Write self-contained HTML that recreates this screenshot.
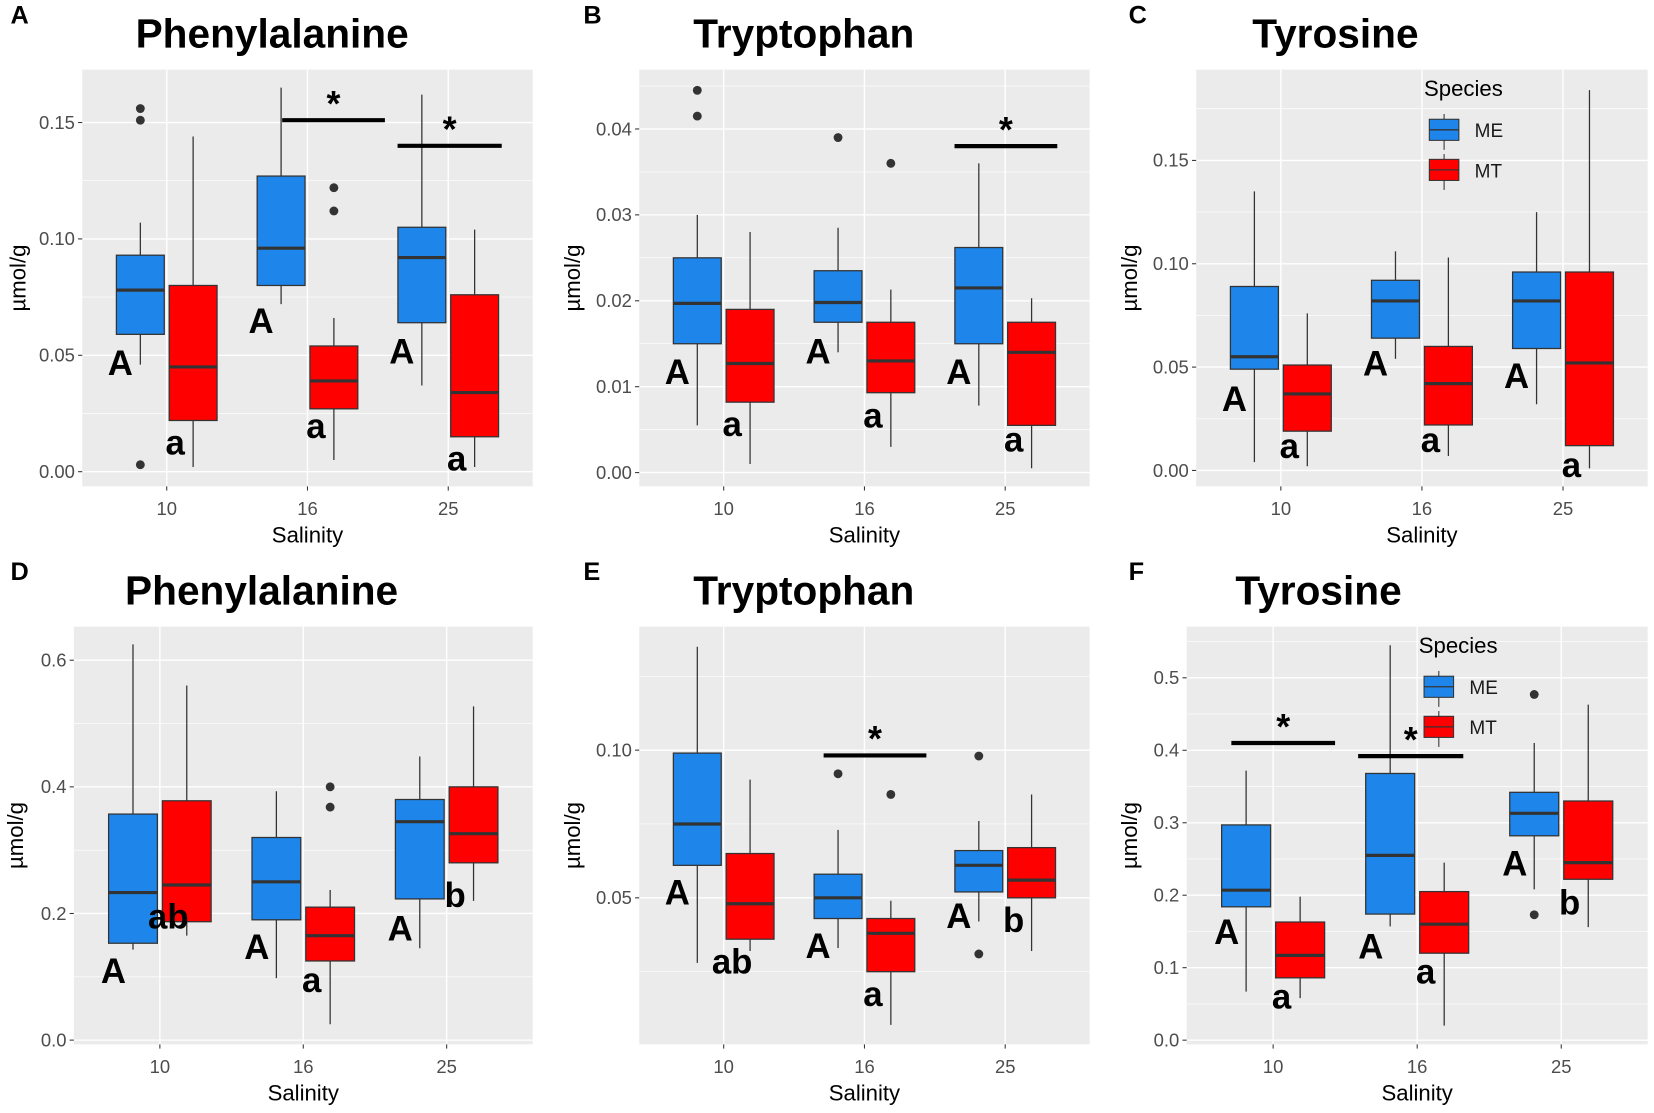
<!DOCTYPE html>
<html><head><meta charset="utf-8">
<style>
html,body{margin:0;padding:0;background:#fff;}
svg{display:block;font-family:"Liberation Sans",Arial,sans-serif;}
</style></head>
<body>
<svg id="fig" width="1654" height="1113" viewBox="0 0 1568 1055" xmlns="http://www.w3.org/2000/svg"></svg>
<script>
// ---- data (five-number summaries: [min, q1, median, q3, max]) ----
const categories = ["10", "16", "25"];
const series = ["ME", "MT"];

const phe1ME = [[0.046,0.059,0.078,0.093,0.107],[0.072,0.080,0.096,0.127,0.165],[0.037,0.064,0.092,0.105,0.162]];
const phe1MT = [[0.002,0.022,0.045,0.080,0.144],[0.005,0.027,0.039,0.054,0.066],[0.002,0.015,0.034,0.076,0.104]];
const phe1OutME = [[0.156,0.151,0.003],[],[]];
const phe1OutMT = [[],[0.122,0.112],[]];

const trp1ME = [[0.0055,0.015,0.0197,0.025,0.030],[0.014,0.0175,0.0198,0.0235,0.0285],[0.0078,0.015,0.0215,0.0262,0.036]];
const trp1MT = [[0.001,0.0082,0.0127,0.019,0.028],[0.003,0.0093,0.013,0.0175,0.0213],[0.0005,0.0055,0.014,0.0175,0.0203]];
const trp1OutME = [[0.0445,0.0415],[0.039],[]];
const trp1OutMT = [[],[0.036],[]];

const tyr1ME = [[0.004,0.049,0.055,0.089,0.135],[0.054,0.064,0.082,0.092,0.106],[0.032,0.059,0.082,0.096,0.125]];
const tyr1MT = [[0.002,0.019,0.037,0.051,0.076],[0.007,0.022,0.042,0.060,0.103],[0.001,0.012,0.052,0.096,0.184]];
const tyr1OutME = [[],[],[]];
const tyr1OutMT = [[],[],[]];

const phe2ME = [[0.143,0.153,0.233,0.357,0.625],[0.098,0.190,0.250,0.320,0.393],[0.145,0.223,0.345,0.380,0.448]];
const phe2MT = [[0.165,0.187,0.245,0.378,0.560],[0.025,0.125,0.165,0.210,0.237],[0.220,0.280,0.326,0.400,0.527]];
const phe2OutME = [[],[],[]];
const phe2OutMT = [[],[0.400,0.368],[]];

const trp2ME = [[0.028,0.061,0.075,0.099,0.135],[0.033,0.043,0.050,0.058,0.073],[0.042,0.052,0.061,0.066,0.076]];
const trp2MT = [[0.032,0.036,0.048,0.065,0.090],[0.007,0.025,0.038,0.043,0.049],[0.032,0.050,0.056,0.067,0.085]];
const trp2OutME = [[],[0.092],[0.098,0.031]];
const trp2OutMT = [[],[0.085],[]];

const tyr2ME = [[0.067,0.184,0.207,0.297,0.372],[0.157,0.174,0.255,0.368,0.545],[0.208,0.282,0.313,0.342,0.410]];
const tyr2MT = [[0.058,0.086,0.117,0.163,0.198],[0.020,0.120,0.160,0.205,0.245],[0.156,0.222,0.245,0.330,0.463]];
const tyr2OutME = [[],[],[0.477,0.173]];
const tyr2OutMT = [[],[],[]];

const phe1Letters = [["A","a"],["A","a"],["A","a"]];
const phe1LetterY = [[0.047,0.012],[0.065,0.019],[0.052,0.005]];
const trp1Letters = [["A","a"],["A","a"],["A","a"]];
const trp1LetterY = [[0.0118,0.0055],[0.0142,0.0065],[0.0118,0.0037]];
const tyr1Letters = [["A","a"],["A","a"],["A","a"]];
const tyr1LetterY = [[0.035,0.011],[0.052,0.014],[0.046,0.002]];
const phe2Letters = [["A","ab"],["A","a"],["A","b"]];
const phe2LetterY = [[0.11,0.193],[0.148,0.093],[0.177,0.227]];
const trp2Letters = [["A","ab"],["A","a"],["A","b"]];
const trp2LetterY = [[0.052,0.028],[0.034,0.017],[0.044,0.042]];
const tyr2Letters = [["A","a"],["A","a"],["A","b"]];
const tyr2LetterY = [[0.15,0.058],[0.13,0.093],[0.245,0.188]];

// significance bars: [start (category units), end, y]
const phe1Sig = [[1.82,2.55,0.151],[2.64,3.38,0.140]];
const trp1Sig = [[2.64,3.37,0.038]];
const tyr1Sig = [];
const phe2Sig = [];
const trp2Sig = [[1.71,2.44,0.0982]];
const tyr2Sig = [[0.71,1.43,0.41],[1.59,2.32,0.392]];

const phe1Ticks = [0,0.05,0.10,0.15], phe1TickLab = ["0.00","0.05","0.10","0.15"];
const trp1Ticks = [0,0.01,0.02,0.03,0.04], trp1TickLab = ["0.00","0.01","0.02","0.03","0.04"];
const tyr1Ticks = [0,0.05,0.10,0.15], tyr1TickLab = ["0.00","0.05","0.10","0.15"];
const phe2Ticks = [0,0.2,0.4,0.6], phe2TickLab = ["0.0","0.2","0.4","0.6"];
const trp2Ticks = [0.05,0.10], trp2TickLab = ["0.05","0.10"];
const tyr2Ticks = [0,0.1,0.2,0.3,0.4,0.5], tyr2TickLab = ["0.0","0.1","0.2","0.3","0.4","0.5"];

const NS = "http://www.w3.org/2000/svg";
const svg = document.getElementById("fig");
function mk(tag, attrs, parent, text){
  const e = document.createElementNS(NS, tag);
  for (const k in attrs) e.setAttribute(k, attrs[k]);
  if (text !== undefined) e.textContent = text;
  (parent||svg).appendChild(e);
  return e;
}

function panel(cfg){
  const g = mk("g", {});
  
  
  const {x0,x1,y0,y1,dMin,dMax} = cfg;
  const X = v => x0 + (v - 0.4) / 3.2 * (x1 - x0);
  const Y = v => y1 - (v - dMin) / (dMax - dMin) * (y1 - y0);
  const bg = mk("rect",{x:x0,y:y0,width:x1-x0,height:y1-y0,fill:"#EBEBEB"},g);
  
  
  const t = cfg.ticks; const step = t.length>1 ? t[1]-t[0] : 0.05;
  for (let v = t[0]-step/2; v < dMax; v += step){
    if (v > dMin) mk("line",{x1:x0,x2:x1,y1:Y(v),y2:Y(v),stroke:"#fff","stroke-width":0.6},g);
  }
  t.forEach((v,i)=>{
    mk("line",{x1:x0,x2:x1,y1:Y(v),y2:Y(v),stroke:"#fff","stroke-width":1.3},g);
    mk("line",{x1:x0-4,x2:x0,y1:Y(v),y2:Y(v),stroke:"#333","stroke-width":1},g);
    const lab = mk("text",{x:x0-7,y:Y(v)+6,"text-anchor":"end","font-size":17.5,fill:"#4D4D4D"},g,cfg.tickLab[i]);
    
    
  });
  categories.forEach((c,i)=>{
    const xv = X(i+1);
    mk("line",{x1:xv,x2:xv,y1:y0,y2:y1,stroke:"#fff","stroke-width":1.3},g);
    mk("line",{x1:xv,x2:xv,y1:y1,y2:y1+4,stroke:"#333","stroke-width":1},g);
    const lab = mk("text",{x:xv,y:y1+27,"text-anchor":"middle","font-size":17.5,fill:"#4D4D4D"},g,c);
    
    
  });
  const colors = ["#1E86EA","#FF0000"];
  [cfg.me, cfg.mt].forEach((arr, s)=>{
    const outs = s===0 ? cfg.outMe : cfg.outMt;
    arr.forEach((b,i)=>{
      const cx = X(i+1 + (s===0?-0.1875:0.1875));
      const hw = (X(1.17)-X(1));
      const bx = mk("g",{},g);
      
      
      mk("line",{x1:cx,x2:cx,y1:Y(b[4]),y2:Y(b[0]),stroke:"#333","stroke-width":1.2},bx);
      mk("rect",{x:cx-hw,y:Y(b[3]),width:2*hw,height:Y(b[1])-Y(b[3]),fill:colors[s],stroke:"#333","stroke-width":1.2},bx);
      mk("line",{x1:cx-hw,x2:cx+hw,y1:Y(b[2]),y2:Y(b[2]),stroke:"#333","stroke-width":3},bx);
      outs[i].forEach(o=>{
        const p = mk("circle",{cx:cx,cy:Y(o),r:4.2,fill:"#333"},g);
        
        
      });
    });
  });
  cfg.letters.forEach((pair,i)=>{
    const up = mk("text",{x:X(i+1)-44,y:Y(cfg.letterY[i][0])+12,"text-anchor":"middle","font-size":33,"font-weight":"bold",fill:"#000"},g,pair[0]);
    
    
    const lo = mk("text",{x:X(i+1)+8,y:Y(cfg.letterY[i][1])+10,"text-anchor":"middle","font-size":33,"font-weight":"bold",fill:"#000"},g,pair[1]);
    
    
  });
  cfg.sig.forEach(sg=>{
    const l = mk("line",{x1:X(sg[0]),x2:X(sg[1]),y1:Y(sg[2]),y2:Y(sg[2]),stroke:"#000","stroke-width":4},g);
    
    
    const st = mk("text",{x:(X(sg[0])+X(sg[1]))/2,y:Y(sg[2])-4,"text-anchor":"middle","font-size":34,"font-weight":"bold",fill:"#000"},g,"*");
    
    
  });
  const ttl = mk("text",{x:cfg.tx,y:y0-21,"text-anchor":"middle","font-size":38.5,"font-weight":"bold",fill:"#000"},g,cfg.title);
  
  
  const pl = mk("text",{x:cfg.lx,y:y0-44,"font-size":24,"font-weight":"bold",fill:"#000"},g,cfg.letter);
  
  
  const xt = mk("text",{x:(x0+x1)/2,y:y1+53,"text-anchor":"middle","font-size":21,fill:"#000"},g,"Salinity");
  
  
  const yc = (y0+y1)/2;
  const yt = mk("text",{x:cfg.ytx,y:yc,"text-anchor":"middle","font-size":21,fill:"#000",transform:`rotate(-90 ${cfg.ytx} ${yc})`},g,"µmol/g");
  
  
  if (cfg.legend){
    const L = cfg.legend;
    const lg = mk("g",{},g);
    
    
    mk("text",{x:L[0],y:L[1],"font-size":21,fill:"#000"},lg,"Species");
    series.forEach((s,k)=>{
      const ky = L[1]+22+k*38;
      const kx = L[0]+5;
      const e = mk("g",{},lg);
      
      
      mk("line",{x1:kx+14,x2:kx+14,y1:ky-5,y2:ky+29,stroke:"#333","stroke-width":1},e);
      mk("rect",{x:kx,y:ky,width:28,height:20,fill:colors[k],stroke:"#333","stroke-width":1},e);
      mk("line",{x1:kx,x2:kx+28,y1:ky+10,y2:ky+10,stroke:"#333","stroke-width":1.2},e);
      mk("text",{x:kx+43,y:ky+17,"font-size":18,fill:"#1a1a1a"},e,s);
    });
  }
}

panel({name:"panel-a-phenylalanine",letter:"A",title:"Phenylalanine",x0:78,x1:505,y0:66,y1:461,dMin:-0.0063,dMax:0.1727,
  ticks:phe1Ticks,tickLab:phe1TickLab,me:phe1ME,mt:phe1MT,outMe:phe1OutME,outMt:phe1OutMT,letters:phe1Letters,letterY:phe1LetterY,sig:phe1Sig,tx:258,lx:10,ytx:24});
panel({name:"panel-b-tryptophan",letter:"B",title:"Tryptophan",x0:606,x1:1033,y0:66,y1:461,dMin:-0.0016,dMax:0.0469,
  ticks:trp1Ticks,tickLab:trp1TickLab,me:trp1ME,mt:trp1MT,outMe:trp1OutME,outMt:trp1OutMT,letters:trp1Letters,letterY:trp1LetterY,sig:trp1Sig,tx:762,lx:553,ytx:550});
panel({name:"panel-c-tyrosine",letter:"C",title:"Tyrosine",x0:1134,x1:1562,y0:66,y1:461,dMin:-0.0077,dMax:0.1939,
  ticks:tyr1Ticks,tickLab:tyr1TickLab,me:tyr1ME,mt:tyr1MT,outMe:tyr1OutME,outMt:tyr1OutMT,letters:tyr1Letters,letterY:tyr1LetterY,sig:tyr1Sig,tx:1266,lx:1070,ytx:1078,legend:[1350,91]});
panel({name:"panel-d-phenylalanine",letter:"D",title:"Phenylalanine",x0:70,x1:505,y0:594,y1:990,dMin:-0.0067,dMax:0.653,
  ticks:phe2Ticks,tickLab:phe2TickLab,me:phe2ME,mt:phe2MT,outMe:phe2OutME,outMt:phe2OutMT,letters:phe2Letters,letterY:phe2LetterY,sig:phe2Sig,tx:248,lx:10,ytx:22});
panel({name:"panel-e-tryptophan",letter:"E",title:"Tryptophan",x0:606,x1:1033,y0:594,y1:990,dMin:0.0004,dMax:0.1418,
  ticks:trp2Ticks,tickLab:trp2TickLab,me:trp2ME,mt:trp2MT,outMe:trp2OutME,outMt:trp2OutMT,letters:trp2Letters,letterY:trp2LetterY,sig:trp2Sig,tx:762,lx:553,ytx:550});
panel({name:"panel-f-tyrosine",letter:"F",title:"Tyrosine",x0:1125,x1:1562,y0:594,y1:990,dMin:-0.0058,dMax:0.5706,
  ticks:tyr2Ticks,tickLab:tyr2TickLab,me:tyr2ME,mt:tyr2MT,outMe:tyr2OutME,outMt:tyr2OutMT,letters:tyr2Letters,letterY:tyr2LetterY,sig:tyr2Sig,tx:1250,lx:1070,ytx:1078,legend:[1345,619]});
</script>
</body></html>
